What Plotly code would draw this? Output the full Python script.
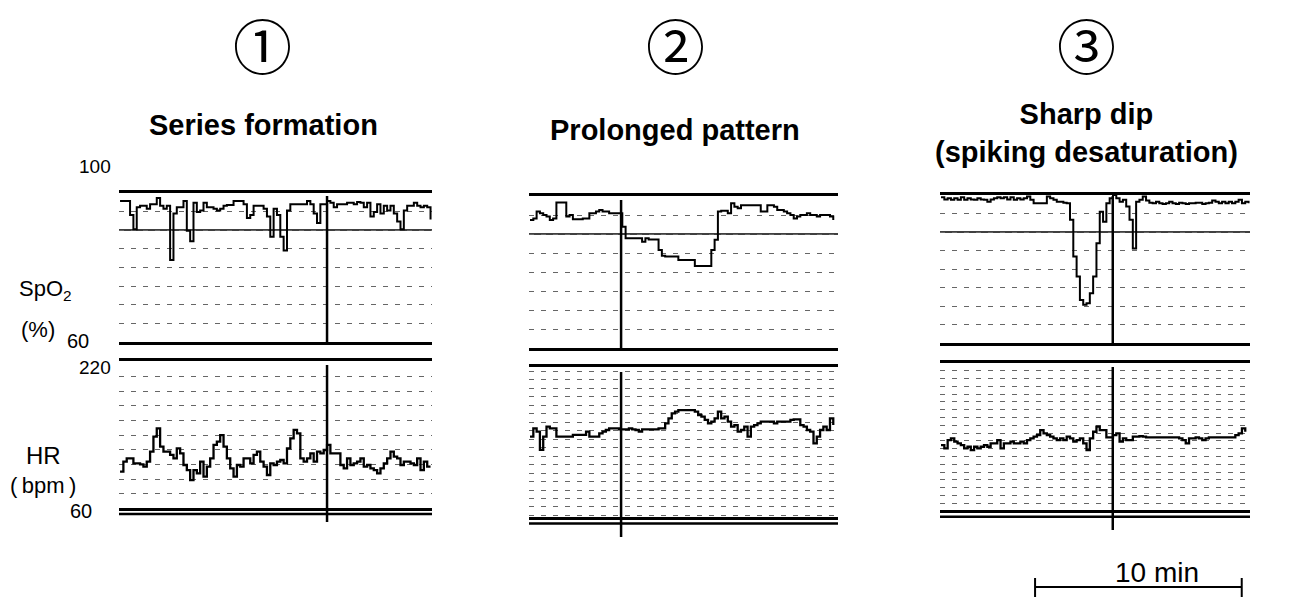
import plotly.graph_objects as go

# ---------------- data (minutes, %, bpm) ----------------
t_min = [0.05, 0.21, 0.37, 0.53, 0.69, 0.85, 1.01, 1.17, 1.33, 1.49,
         1.65, 1.81, 1.97, 2.13, 2.29, 2.45, 2.61, 2.77, 2.93, 3.09,
         3.25, 3.41, 3.57, 3.73, 3.89, 4.05, 4.21, 4.37, 4.53, 4.69,
         4.85, 5.01, 5.17, 5.33, 5.49, 5.65, 5.81, 5.97, 6.13, 6.29,
         6.45, 6.61, 6.77, 6.93, 7.09, 7.25, 7.41, 7.57, 7.73, 7.89,
         8.05, 8.21, 8.37, 8.53, 8.69, 8.85, 9.01, 9.17, 9.33, 9.49,
         9.65, 9.81, 9.97, 10.13, 10.29, 10.45, 10.61, 10.77, 10.93, 11.09,
         11.25, 11.41, 11.57, 11.73, 11.89, 12.05, 12.21, 12.37, 12.53, 12.69,
         12.85, 13.01, 13.17, 13.33, 13.49, 13.65, 13.81, 13.97, 14.13, 14.29,
         14.45, 14.61, 14.77, 14.93]

spo2_1 = [97.8, 97.8, 97.8, 94.0, 90.2, 96.1, 96.5, 96.5, 95.7, 96.9,
          96.9, 98.6, 96.5, 95.7, 96.5, 82.0, 94.4, 96.1, 96.1, 97.8,
          89.8, 87.0, 97.3, 94.8, 95.2, 97.3, 96.1, 96.1, 95.7, 95.2,
          95.7, 96.5, 96.7, 96.7, 97.8, 97.8, 97.8, 96.9, 93.2, 94.0,
          96.5, 96.5, 96.5, 95.7, 93.6, 88.2, 95.7, 94.0, 88.2, 84.5,
          95.2, 96.9, 96.9, 96.9, 96.9, 96.9, 97.8, 96.9, 94.4, 91.9,
          96.9, 96.9, 97.8, 97.3, 96.1, 96.9, 96.9, 96.9, 97.3, 97.3,
          96.9, 97.5, 97.3, 96.1, 97.3, 93.6, 94.8, 96.9, 94.4, 96.5,
          95.2, 96.5, 94.4, 92.3, 90.2, 95.2, 96.5, 96.5, 97.3, 96.5,
          96.1, 96.5, 96.1, 92.8]

hr_1 = [99.2, 110.1, 113.7, 113.7, 108.3, 108.3, 107.2, 104.7, 110.1, 121.0,
        137.3, 146.4, 126.4, 121.0, 121.0, 117.4, 113.7, 124.6, 119.2, 106.5,
        101.0, 90.0, 101.0, 97.4, 110.1, 93.8, 104.7, 113.7, 128.3, 131.9,
        139.1, 126.4, 113.7, 102.9, 93.8, 106.5, 104.7, 113.7, 113.7, 108.3,
        117.4, 121.0, 110.1, 104.7, 95.6, 108.3, 106.5, 110.1, 111.9, 108.3,
        124.6, 135.5, 144.6, 141.0, 113.7, 110.1, 113.7, 119.2, 110.1, 121.0,
        119.2, 122.8, 128.3, 119.2, 119.2, 119.2, 106.5, 102.9, 113.7, 106.5,
        108.3, 110.1, 113.7, 104.7, 106.5, 102.9, 101.0, 97.4, 102.9, 108.3,
        113.7, 121.0, 115.6, 113.7, 106.5, 110.1, 110.1, 108.3, 106.5, 113.7,
        101.0, 110.1, 104.7, 104.7]

spo2_2 = [93.7, 94.1, 95.9, 95.5, 95.0, 94.6, 93.7, 94.1, 98.3, 98.3,
          98.3, 94.6, 95.0, 93.9, 93.9, 93.9, 94.1, 94.1, 95.5, 95.5,
          95.9, 96.3, 95.9, 95.9, 95.5, 95.5, 95.5, 95.5, 91.9, 88.9,
          88.9, 88.9, 88.9, 88.9, 88.0, 88.9, 88.6, 88.6, 88.6, 85.8,
          84.3, 84.1, 84.1, 84.1, 84.1, 83.2, 83.2, 83.2, 83.2, 83.2,
          81.6, 81.6, 81.6, 81.6, 81.6, 85.8, 88.5, 95.9, 96.1, 96.1,
          95.5, 98.1, 97.2, 96.8, 97.6, 97.6, 97.6, 97.6, 97.6, 97.6,
          95.9, 95.9, 97.6, 97.6, 97.2, 96.3, 96.3, 95.9, 95.5, 95.0,
          94.1, 94.6, 95.0, 95.0, 95.5, 95.0, 95.0, 94.6, 95.0, 95.0,
          95.0, 94.6, 93.7]

hr_2 = [145.7, 154.6, 151.0, 131.5, 145.7, 156.4, 154.6, 154.6, 145.7, 145.7,
        145.7, 145.7, 145.7, 147.5, 147.5, 147.5, 147.5, 151.0, 145.7, 145.7,
        145.7, 149.3, 151.0, 152.8, 154.6, 154.6, 154.6, 153.5, 153.5, 153.5,
        154.6, 153.5, 152.8, 151.0, 153.5, 153.5, 153.5, 153.5, 153.5, 154.6,
        154.6, 159.9, 165.3, 170.6, 172.4, 174.1, 174.1, 174.1, 174.1, 174.1,
        172.4, 168.8, 167.0, 163.5, 159.9, 161.7, 165.3, 172.4, 165.3, 167.0,
        161.7, 156.4, 158.1, 151.0, 152.8, 156.4, 145.7, 156.4, 158.1, 159.9,
        161.7, 161.7, 161.7, 161.7, 159.9, 161.7, 161.7, 161.7, 161.7, 163.5,
        164.2, 164.2, 158.1, 156.4, 152.8, 151.0, 138.6, 145.7, 152.8, 156.4,
        152.8, 165.3, 158.1]

spo2_3 = [99.4, 98.8, 99.1, 98.7, 99.1, 98.7, 99.4, 98.7, 99.1, 98.8,
          98.7, 99.1, 98.8, 98.7, 98.2, 98.8, 99.1, 99.4, 99.1, 99.4,
          98.8, 99.4, 98.7, 99.1, 98.8, 99.1, 99.6, 98.7, 97.8, 97.8,
          97.8, 97.8, 99.6, 99.1, 98.7, 98.2, 98.2, 97.9, 97.8, 93.3,
          83.4, 78.0, 71.7, 70.4, 70.8, 73.5, 78.0, 87.0, 95.5, 92.8,
          97.8, 99.1, 100.0, 99.1, 98.2, 98.7, 96.9, 93.3, 85.6, 98.2,
          98.7, 99.6, 98.5, 97.9, 97.8, 98.2, 97.8, 97.6, 97.8, 98.2,
          97.8, 97.6, 97.9, 97.8, 97.6, 97.8, 97.8, 97.9, 97.9, 97.6,
          97.8, 97.9, 98.5, 98.2, 97.8, 98.2, 97.8, 98.2, 97.8, 98.2,
          98.7, 97.8, 98.2, 97.8]

hr_3 = [130.5, 126.9, 136.0, 137.8, 134.2, 132.4, 130.5, 126.9, 128.7, 125.1,
        128.7, 126.9, 128.7, 130.5, 128.7, 132.4, 132.4, 136.0, 126.9, 132.4,
        132.4, 134.2, 132.4, 132.4, 134.2, 132.4, 136.0, 137.8, 139.6, 141.4,
        146.8, 143.2, 141.4, 139.6, 137.8, 136.0, 137.8, 136.0, 139.6, 137.8,
        134.2, 136.0, 137.8, 132.4, 125.1, 137.8, 145.0, 150.5, 146.8, 146.8,
        138.9, 138.9, 141.4, 143.2, 134.2, 137.8, 136.0, 136.0, 139.6, 139.6,
        140.3, 139.6, 138.9, 138.9, 138.9, 138.9, 138.9, 138.9, 138.9, 138.9,
        138.9, 138.9, 137.8, 136.0, 132.4, 137.8, 137.8, 138.9, 137.8, 136.0,
        137.8, 138.9, 138.9, 138.9, 138.9, 138.9, 138.9, 138.9, 138.9, 141.4,
        143.2, 148.7, 145.0]

event_min = [9.97, 4.47, 8.36]
spo2_threshold = 90
scale_bar_min = 10
panel_marks = ["\u2460", "\u2461", "\u2462"]
panel_titles = ["<b>Series formation</b>", "<b>Prolonged pattern</b>",
                "<b>Sharp dip</b><br><b>(spiking desaturation)</b>"]
spo2_series = [spo2_1, spo2_2, spo2_3]
hr_series = [hr_1, hr_2, hr_3]

# ---------------- layout helpers ----------------
W, H = 1308, 599


def fx(p):
    return p / W


def fy(p):
    return 1 - p / H


panels = [
    dict(x0=119, x1=432, s_top=192.7, s_bot=342, h_top=360.7, h_bot=507.7, dbl=514,
         ev_s=(196, 342), ev_h=(365, 522), hr_tick0=75, hr_dtick=16, cx=262),
    dict(x0=529, x1=838, s_top=196, s_bot=348.3, h_top=367, h_bot=517, dbl=523.5,
         ev_s=(200, 348), ev_h=(372, 537), hr_tick0=70.7, hr_dtick=9.03, cx=675),
    dict(x0=940, x1=1250, s_top=195, s_bot=343.3, h_top=362.7, h_bot=510, dbl=516.7,
         ev_s=(196, 344), ev_h=(367, 530), hr_tick0=67.4, hr_dtick=8.46, cx=1086),
]

FONT = "Liberation Sans, Arial, Helvetica, sans-serif"
fig = go.Figure()
layout = dict(width=W, height=H, margin=dict(l=0, r=0, t=0, b=0),
              paper_bgcolor="white", plot_bgcolor="white", showlegend=False,
              hovermode=False, font=dict(family=FONT, color="black"))
shapes = []
annotations = []

grid_dash = "5px,7px"

for i, p in enumerate(panels):
    ns, nh = 2 * i + 1, 2 * i + 2
    xs_name = "x" if ns == 1 else f"x{ns}"
    ys_name = "y" if ns == 1 else f"y{ns}"
    xh_name, yh_name = f"x{nh}", f"y{nh}"
    xdom = [fx(p["x0"]), fx(p["x1"])]

    common_x = dict(domain=xdom, range=[0, 15], showgrid=False, zeroline=False,
                    showticklabels=False, ticks="", showline=True, mirror=True,
                    linewidth=3, linecolor="black", fixedrange=True)
    layout["xaxis" if ns == 1 else f"xaxis{ns}"] = dict(common_x, anchor=ys_name)
    layout[f"xaxis{nh}"] = dict(common_x, anchor=yh_name)

    layout["yaxis" if ns == 1 else f"yaxis{ns}"] = dict(
        domain=[fy(p["s_bot"]), fy(p["s_top"])], range=[60, 100], anchor=xs_name,
        showline=False, zeroline=False, showticklabels=False, ticks="",
        showgrid=True, gridcolor="#666", gridwidth=1, griddash=grid_dash,
        tickmode="linear", tick0=60, dtick=5, fixedrange=True)
    layout[f"yaxis{nh}"] = dict(
        domain=[fy(p["h_bot"]), fy(p["h_top"])], range=[60, 220], anchor=xh_name,
        showline=False, zeroline=False, showticklabels=False, ticks="",
        showgrid=True, gridcolor="#666", gridwidth=1, griddash=grid_dash,
        tickmode="linear", tick0=p["hr_tick0"], dtick=p["hr_dtick"], fixedrange=True)

    sp = spo2_series[i]
    hr = hr_series[i]
    fig.add_trace(go.Scatter(x=t_min[:len(sp)], y=sp, mode="lines", line_shape="hv",
                             line=dict(color="black", width=2),
                             xaxis=xs_name, yaxis=ys_name))
    fig.add_trace(go.Scatter(x=t_min[:len(hr)], y=hr, mode="lines", line_shape="hv",
                             line=dict(color="black", width=2.3),
                             xaxis=xh_name, yaxis=yh_name))

    # SpO2 threshold line
    shapes.append(dict(type="line", xref=f"{xs_name} domain", yref=ys_name,
                       x0=0, x1=1, y0=spo2_threshold, y1=spo2_threshold,
                       line=dict(color="black", width=1.6), layer="below"))
    # double line under HR
    shapes.append(dict(type="line", xref=f"{xh_name} domain", yref="paper",
                       x0=0, x1=1, y0=fy(p["dbl"]), y1=fy(p["dbl"]),
                       line=dict(color="black", width=2.5)))
    # event marker lines
    ev = event_min[i]
    shapes.append(dict(type="line", xref=xs_name, yref="paper", x0=ev, x1=ev,
                       y0=fy(p["ev_s"][0]), y1=fy(p["ev_s"][1]),
                       line=dict(color="black", width=2.5)))
    shapes.append(dict(type="line", xref=xh_name, yref="paper", x0=ev, x1=ev,
                       y0=fy(p["ev_h"][0]), y1=fy(p["ev_h"][1]),
                       line=dict(color="black", width=2.5)))

    annotations.append(dict(text=panel_marks[i], x=fx(p["cx"]), y=fy(43), xref="paper",
                            yref="paper", showarrow=False, xanchor="center",
                            yanchor="middle",
                            font=dict(family="Noto Sans CJK JP", size=59, color="black")))

# titles
title_pos = [(263, 125), (675, 130), (1086, 133)]
for txt, (xp, yp) in zip(panel_titles, title_pos):
    annotations.append(dict(text=txt, x=fx(xp), y=fy(yp), xref="paper", yref="paper",
                            showarrow=False, xanchor="center", yanchor="middle",
                            font=dict(family=FONT, size=29)))

# left axis labels
left_labels = [
    ("100", 113, 166, "right", 19),
    ("SpO<sub>2</sub>", 45, 290, "center", 22),
    ("(%)", 38, 329, "center", 22),
    ("60", 91, 341, "right", 20),
    ("220", 113, 367, "right", 19),
    ("HR", 43, 455, "center", 24),
    ("(\u2009bpm\u2009)", 43, 485, "center", 22),
    ("60", 94, 511, "right", 20),
]
for txt, xp, yp, anc, sz in left_labels:
    annotations.append(dict(text=txt, x=fx(xp), y=fy(yp), xref="paper", yref="paper",
                            showarrow=False, xanchor=anc, yanchor="middle",
                            font=dict(family=FONT, size=sz)))

# scale bar (10 min) using panel 3 time axis
sb_start = 4.6
shapes.append(dict(type="line", xref="x5", yref="paper", x0=sb_start,
                   x1=sb_start + scale_bar_min, y0=fy(587), y1=fy(587),
                   line=dict(color="black", width=2)))
for xe in (sb_start, sb_start + scale_bar_min):
    shapes.append(dict(type="line", xref="x5", yref="paper", x0=xe, x1=xe,
                       y0=fy(578), y1=fy(597), line=dict(color="black", width=2)))
annotations.append(dict(text=f"{scale_bar_min} min", x=fx(1157),
                        y=fy(572), xref="paper", yref="paper", showarrow=False,
                        xanchor="center", yanchor="middle", font=dict(family=FONT, size=28)))

layout["shapes"] = shapes
layout["annotations"] = annotations
fig.update_layout(**layout)
fig.write_html("out.html", config={"displayModeBar": False},
               post_script="document.body.style.margin='0px';document.body.style.overflow='hidden';")
